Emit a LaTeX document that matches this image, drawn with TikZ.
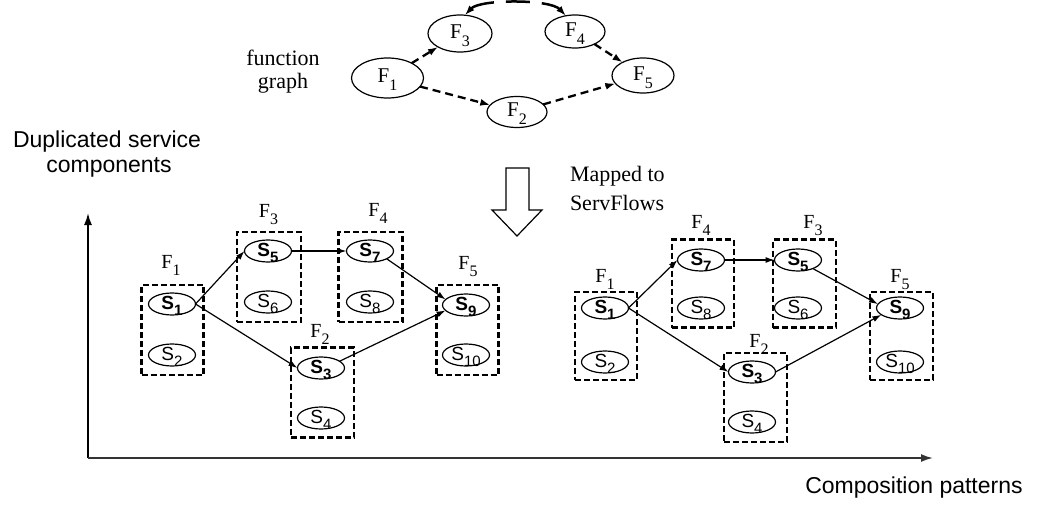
\documentclass[tikz,border=0pt]{standalone}
\usepackage{fontspec}
\setmainfont{Liberation Serif}
\setsansfont{Liberation Sans}
\usetikzlibrary{arrows.meta,shapes.geometric}

\newcommand\Flab[1]{{\fontsize{20}{20}\selectfont F\raisebox{-7pt}{\fontsize{16}{16}\selectfont #1}}}
\newcommand\Fin[1]{\smash{\raisebox{-5pt}{\fontsize{21}{21}\selectfont F\raisebox{-8pt}{\fontsize{16}{16}\selectfont #1}}}}
\newcommand\Sb[1]{\smash{\raisebox{-5.5pt}{\fontsize{19}{19}\selectfont\sffamily\bfseries S\raisebox{-6pt}{\fontsize{15}{15}\selectfont #1}}}}
\newcommand\Sn[1]{\smash{\raisebox{-5.5pt}{\fontsize{19}{19}\selectfont\sffamily S\raisebox{-6pt}{\fontsize{15}{15}\selectfont #1}}}}

\begin{document}
\begin{tikzpicture}[x=1pt,y=-1pt,
  every node/.style={inner sep=0pt, outer sep=0pt},
  fbox/.style={draw, dash pattern=on 6pt off 3pt, line width=2.2pt, minimum width=62pt, minimum height=90pt},
  sell/.style={draw, fill=white, ellipse, line width=1.2pt, minimum width=47pt, minimum height=22pt},
  fell/.style={draw, ellipse, line width=1.2pt},
  flow/.style={line width=1.2pt, -{Latex[length=9pt,width=6pt]}},
  fdash/.style={line width=2.3pt, dash pattern=on 8pt off 5pt, -{Latex[length=10pt,width=7pt]}},
  farc/.style={line width=2.5pt, dash pattern=on 24pt off 12pt, {Latex[length=10pt,width=7pt]}-{Latex[length=10pt,width=7pt]}},
  axis/.style={line width=1.8pt, -{Latex[length=12pt,width=8pt]}},
  lab/.style={font=\fontsize{22}{22}\selectfont, anchor=base},
  flab/.style={anchor=base},
  sans/.style={font=\sffamily\fontsize{23}{23}\selectfont, anchor=base}
]
\useasboundingbox (0,0) rectangle (1038,516);

% ---------- function graph ----------
\node[lab] (fg1) at (283,66) {function};
\node[lab] (fg2) at (283,89) {graph};
\node[fell, minimum width=72pt, minimum height=40pt] (gf1) at (387.5,78) {\Fin{1}};
\node[fell, minimum width=64pt, minimum height=37pt] (gf3) at (460,33.5) {\Fin{3}};
\node[fell, minimum width=60pt, minimum height=33pt] (gf4) at (575,31.5) {\Fin{4}};
\node[fell, minimum width=62pt, minimum height=35pt] (gf5) at (643,75.5) {\Fin{5}};
\node[fell, minimum width=60pt, minimum height=31pt] (gf2) at (517,112) {\Fin{2}};
\draw[fdash] (gf1) -- (gf3);
\draw[fdash] (gf1) -- (gf2);
\draw[fdash] (gf2) -- (gf5);
\draw[fdash] (gf4) -- (gf5);
\draw[farc] (gf3.75) .. controls (480,-1) and (550,-1) .. (gf4.120);

% ---------- mapping arrow ----------
\draw[line width=1.2pt] (506,168) -- (529,168) -- (529,210) -- (542,210) -- (517,236) -- (492,210) -- (506,210) -- cycle;
\node[lab, anchor=base west] (map1) at (570,181) {Mapped to};
\node[lab, anchor=base west] (map2) at (570,210) {ServFlows};

% ---------- axes ----------
\node[sans] (dup1) at (107,147) {Duplicated service};
\node[sans] (dup2) at (109,172) {components};
\node[sans] (comp) at (914,493) {Composition patterns};
\coordinate (O) at (88,458);
\coordinate (Y) at (88,213);
\coordinate (X) at (933,458);
\draw[axis] (O) -- (Y);
\draw[axis, black!80] (O) -- (X);

% ---------- left ServFlow ----------
\node[fbox] (lb1) at (172.5,330) {};
\node[fbox, minimum width=64pt] (lb3) at (269,277) {};
\node[fbox, minimum width=64pt] (lb4) at (370.5,277) {};
\node[fbox] (lb5) at (467.5,330) {};
\node[fbox, minimum width=63pt] (lb2) at (322.5,392.5) {};
\node[flab] (ll1) at (171,268) {\Flab{1}};
\node[flab] (ll3) at (268.5,217) {\Flab{3}};
\node[flab] (ll4) at (378,216) {\Flab{4}};
\node[flab] (ll5) at (468,269) {\Flab{5}};
\node[flab] (ll2) at (320,337) {\Flab{2}};
\node[sell] (ls1) at (172,304) {\Sb{1}};
\node[sell] (ls2) at (172,355) {\Sn{2}};
\node[sell] (ls5) at (268,251) {\Sb{5}};
\node[sell] (ls6) at (268,302) {\Sn{6}};
\node[sell] (ls7) at (370,251) {\Sb{7}};
\node[sell] (ls8) at (370,302) {\Sn{8}};
\node[sell] (ls9) at (466,305) {\Sb{9}};
\node[sell] (ls10) at (466,355) {\Sn{10}};
\node[sell] (ls3) at (321,368) {\Sb{3}};
\node[sell] (ls4) at (321,418) {\Sn{4}};
\draw[flow] (ls1.east) -- (ls5.west);
\draw[flow] (ls1.east) -- (ls3.west);
\draw[flow] (ls5.east) -- (ls7.west);
\draw[flow] (ls7.-25) -- (ls9.165);
\draw[flow] (ls3.20) -- (ls9.195);

% ---------- right ServFlow ----------
\node[fbox, minimum height=88pt] (rb1) at (606,336) {};
\node[fbox, minimum height=88pt] (rb4) at (703,283.5) {};
\node[fbox, minimum height=88pt, minimum width=63pt] (rb3) at (804.5,283.5) {};
\node[fbox, minimum height=88pt, minimum width=63pt] (rb5) at (901.5,336) {};
\node[fbox, minimum height=89pt, minimum width=63pt] (rb2) at (755.5,397.5) {};
\node[flab] (rl1) at (605,282) {\Flab{1}};
\node[flab] (rl4) at (701,228) {\Flab{4}};
\node[flab] (rl3) at (813,228) {\Flab{3}};
\node[flab] (rl5) at (900,282) {\Flab{5}};
\node[flab] (rl2) at (759,347) {\Flab{2}};
\node[sell] (rs1) at (605,308) {\Sb{1}};
\node[sell] (rs2) at (605,362) {\Sn{2}};
\node[sell] (rs7) at (701,260) {\Sb{7}};
\node[sell] (rs8) at (701,308) {\Sn{8}};
\node[sell] (rs5) at (798,260) {\Sb{5}};
\node[sell] (rs6) at (798,308) {\Sn{6}};
\node[sell] (rs9) at (900,308) {\Sb{9}};
\node[sell] (rs10) at (900,362) {\Sn{10}};
\node[sell] (rs3) at (752,372) {\Sb{3}};
\node[sell] (rs4) at (752,422) {\Sn{4}};
\draw[flow] (rs1.east) -- (rs7.west);
\draw[flow] (rs1.east) -- (rs3.west);
\draw[flow] (rs7.east) -- (rs5.west);
\draw[flow] (rs5.-30) -- (rs9.170);
\draw[flow] (rs3.east) -- (rs9.200);
\end{tikzpicture}
\end{document}
